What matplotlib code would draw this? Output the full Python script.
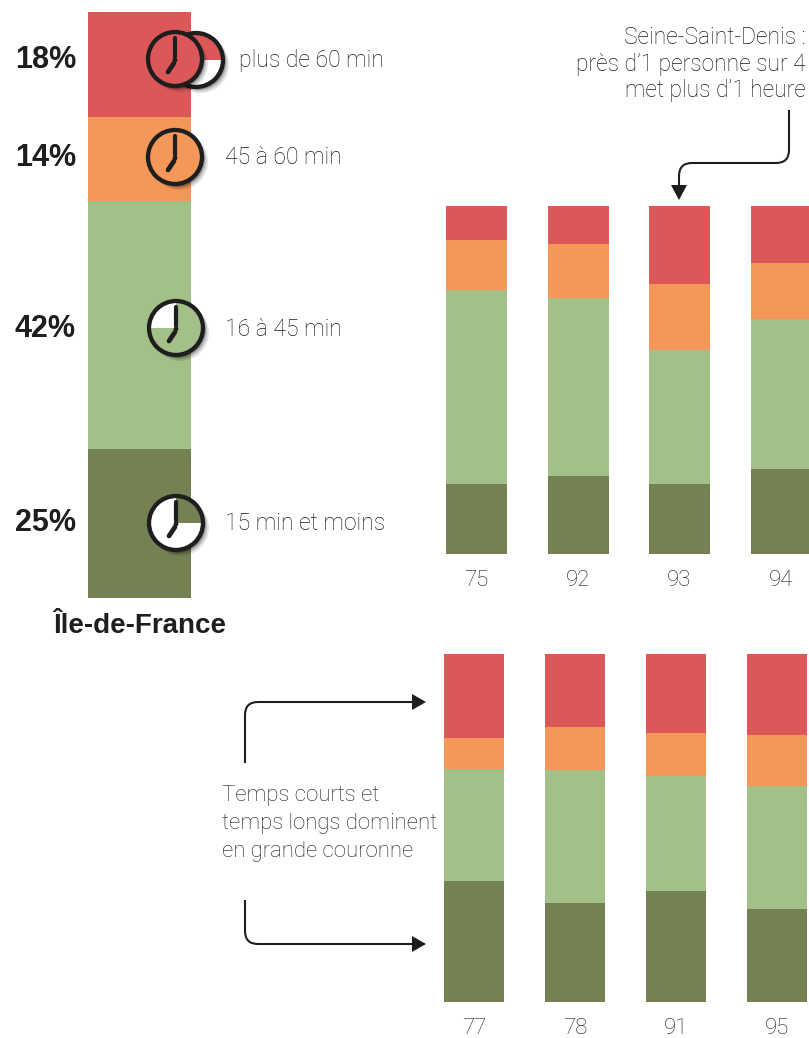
import matplotlib
matplotlib.use("Agg")
import matplotlib.pyplot as plt
from matplotlib.patches import Circle, Wedge, PathPatch, Polygon
from matplotlib.path import Path

W, H = 809, 1038
RED, ORANGE, LIGHT, DARK = "#DC5757", "#F59758", "#A2C088", "#748152"
INK, GREY = "#1E1E1E", "#1C1C1C"
LIGHTFONT = ["Roboto", "Liberation Sans", "DejaVu Sans"]

# Bottom-to-top band order
band_colors = [DARK, LIGHT, ORANGE, RED]

idf_label = ["Île-de-France"]
idf_short = [25.3]
idf_mid = [42.0]
idf_long = [14.2]
idf_longest = [17.8]

top_depts = ["75", "92", "93", "94"]
top_short = [20, 22.5, 20, 24.5]
top_mid = [56, 51, 38.5, 43]
top_long = [14.3, 15.5, 19, 16]
top_longest = [9.7, 11, 22.5, 16.5]

bottom_depts = ["77", "78", "91", "95"]
bottom_short = [34.8, 28.5, 32, 26.7]
bottom_mid = [32.2, 38.2, 33, 35.3]
bottom_long = [9, 12.3, 12.3, 14.7]
bottom_longest = [24, 21, 22.7, 23.3]

band_labels = ["plus de 60 min", "45 à 60 min", "16 à 45 min", "15 min et moins"]
band_pcts = ["18%", "14%", "42%", "25%"]

plt.rcParams["font.family"] = ["Liberation Sans", "DejaVu Sans"]
fig = plt.figure(figsize=(W / 100, H / 100), dpi=100, facecolor="white")


def px_axes(x0, y0, x1, y1):
    return fig.add_axes([x0 / W, 1 - y1 / H, (x1 - x0) / W, (y1 - y0) / H])


def stacked(ax, labels, series, width, xlim, ymax, fs, pad, **tick_kw):
    base = [0] * len(labels)
    xs = list(range(len(labels)))
    for vals, col in zip(series, band_colors):
        ax.bar(xs, vals, width=width, bottom=base, color=col, linewidth=0)
        base = [b + v for b, v in zip(base, vals)]
    ax.set_xlim(*xlim)
    ax.set_ylim(0, ymax)
    ax.set_yticks([])
    ax.set_xticks(xs, labels)
    ax.tick_params(axis="x", length=0, pad=pad, labelsize=fs, **tick_kw)
    for s in ax.spines.values():
        s.set_visible(False)
    ax.patch.set_alpha(0)


# Île-de-France column
ax_a = px_axes(88, 12, 191, 598)
stacked(ax_a, idf_label, [idf_short, idf_mid, idf_long, idf_longest], 1.0,
        (-0.5, 0.5), 99.3, 20.0, 11, labelcolor=INK)
for t in ax_a.get_xticklabels():
    t.set_fontweight("bold")

# Petite couronne
ax_b = px_axes(425, 206, 809, 554)
stacked(ax_b, top_depts, [top_short, top_mid, top_long, top_longest], 61 / 101.5,
        ((425 - 476.5) / 101.5, (809 - 476.5) / 101.5), 100, 16, 11.3, labelcolor=GREY)

# Grande couronne
ax_c = px_axes(425, 654, 809, 1002)
stacked(ax_c, bottom_depts, [bottom_short, bottom_mid, bottom_long, bottom_longest], 60 / 101,
        ((425 - 474) / 101, (809 - 474) / 101), 100, 16, 11.5, labelcolor=GREY)
for ax in (ax_b, ax_c):
    for t in ax.get_xticklabels():
        t.set_fontfamily(LIGHTFONT)
        t.set_fontweight("light")

# Overlay in pixel space for clocks, arrows and text
ov = fig.add_axes([0, 0, 1, 1], zorder=10)
ov.set_xlim(0, W)
ov.set_ylim(H, 0)
ov.axis("off")
ov.patch.set_alpha(0)


def clock(cx, cy, face, wedge=None, wedge_col=None, hands=True, r=27):
    for off, rr, a in [(4.5, 1.5, 0.10), (3.5, 0.8, 0.15), (2.5, 0.2, 0.25)]:
        ov.add_patch(Circle((cx + off, cy + off), r + rr, fc="black", ec="none", alpha=a))
    ov.add_patch(Circle((cx, cy), r, fc=face, ec="none"))
    if wedge:
        ov.add_patch(Wedge((cx, cy), r, wedge[0], wedge[1], fc=wedge_col, ec="none"))
    ov.add_patch(Circle((cx, cy), r, fc="none", ec=INK, lw=3.1))
    if hands:
        ov.plot([cx, cx], [cy - 21, cy - 2], color=INK, lw=3.0, solid_capstyle="round")
        ov.plot([cx - 1, cx - 7], [cy + 4, cy + 13], color=INK, lw=3.4, solid_capstyle="round")
        ov.add_patch(Circle((cx, cy + 1), 2.4, fc=INK, ec="none"))


clock(196, 60, "white", (180, 360), RED, hands=False)
clock(175, 59, RED)
clock(175, 157, ORANGE)
clock(176, 328, LIGHT, (180, 270), "white")
clock(176, 523, "white", (270, 360), DARK)

for lab, x, y in zip(band_labels, [239, 225, 225, 225], [61, 158, 329, 524]):
    ov.text(x, y, lab, fontsize=16.6, color=GREY, va="center", ha="left",
            family=LIGHTFONT, fontweight="light")
for pct, y in zip(band_pcts, [60, 158, 329, 523]):
    ov.text(76, y, pct, fontsize=22, fontweight="bold", color=INK, va="center", ha="right")

for line, y in zip(["Seine-Saint-Denis :", "près d’1 personne sur 4", "met plus d’1 heure"], [37, 64, 91]):
    ov.text(806, y, line, fontsize=16.4, color=GREY, va="center", ha="right",
            family=LIGHTFONT, fontweight="light")
for line, y in zip(["Temps courts et", "temps longs dominent", "en grande couronne"], [796, 823, 851]):
    ov.text(222, y, line, fontsize=15.9, color=GREY, va="center", ha="left",
            family=LIGHTFONT, fontweight="light")


def arrow(p0, p1, c, p2, p3, head):
    path = Path([p0, p1, c, p2, p3],
                [Path.MOVETO, Path.LINETO, Path.CURVE3, Path.CURVE3, Path.LINETO])
    ov.add_patch(PathPatch(path, fc="none", ec=INK, lw=1.5))
    ov.add_patch(Polygon(head, closed=True, fc=INK, ec="none"))


# Seine-Saint-Denis arrow: two bends
path = Path([(789, 110), (789, 150), (789, 163), (776, 163), (692, 163), (679, 163), (679, 176), (679, 186)],
            [Path.MOVETO, Path.LINETO, Path.CURVE3, Path.CURVE3, Path.LINETO, Path.CURVE3, Path.CURVE3, Path.LINETO])
ov.add_patch(PathPatch(path, fc="none", ec=INK, lw=1.5))
ov.add_patch(Polygon([(671, 185), (687, 185), (679, 200)], closed=True, fc=INK, ec="none"))

arrow((245, 763), (245, 715), (245, 702), (258, 702), (413, 702),
      [(412, 694), (412, 710), (426, 702)])
arrow((245, 900), (245, 931), (245, 944), (258, 944), (413, 944),
      [(412, 936), (412, 952), (426, 944)])

fig.savefig("out.png", dpi=100, facecolor="white")
